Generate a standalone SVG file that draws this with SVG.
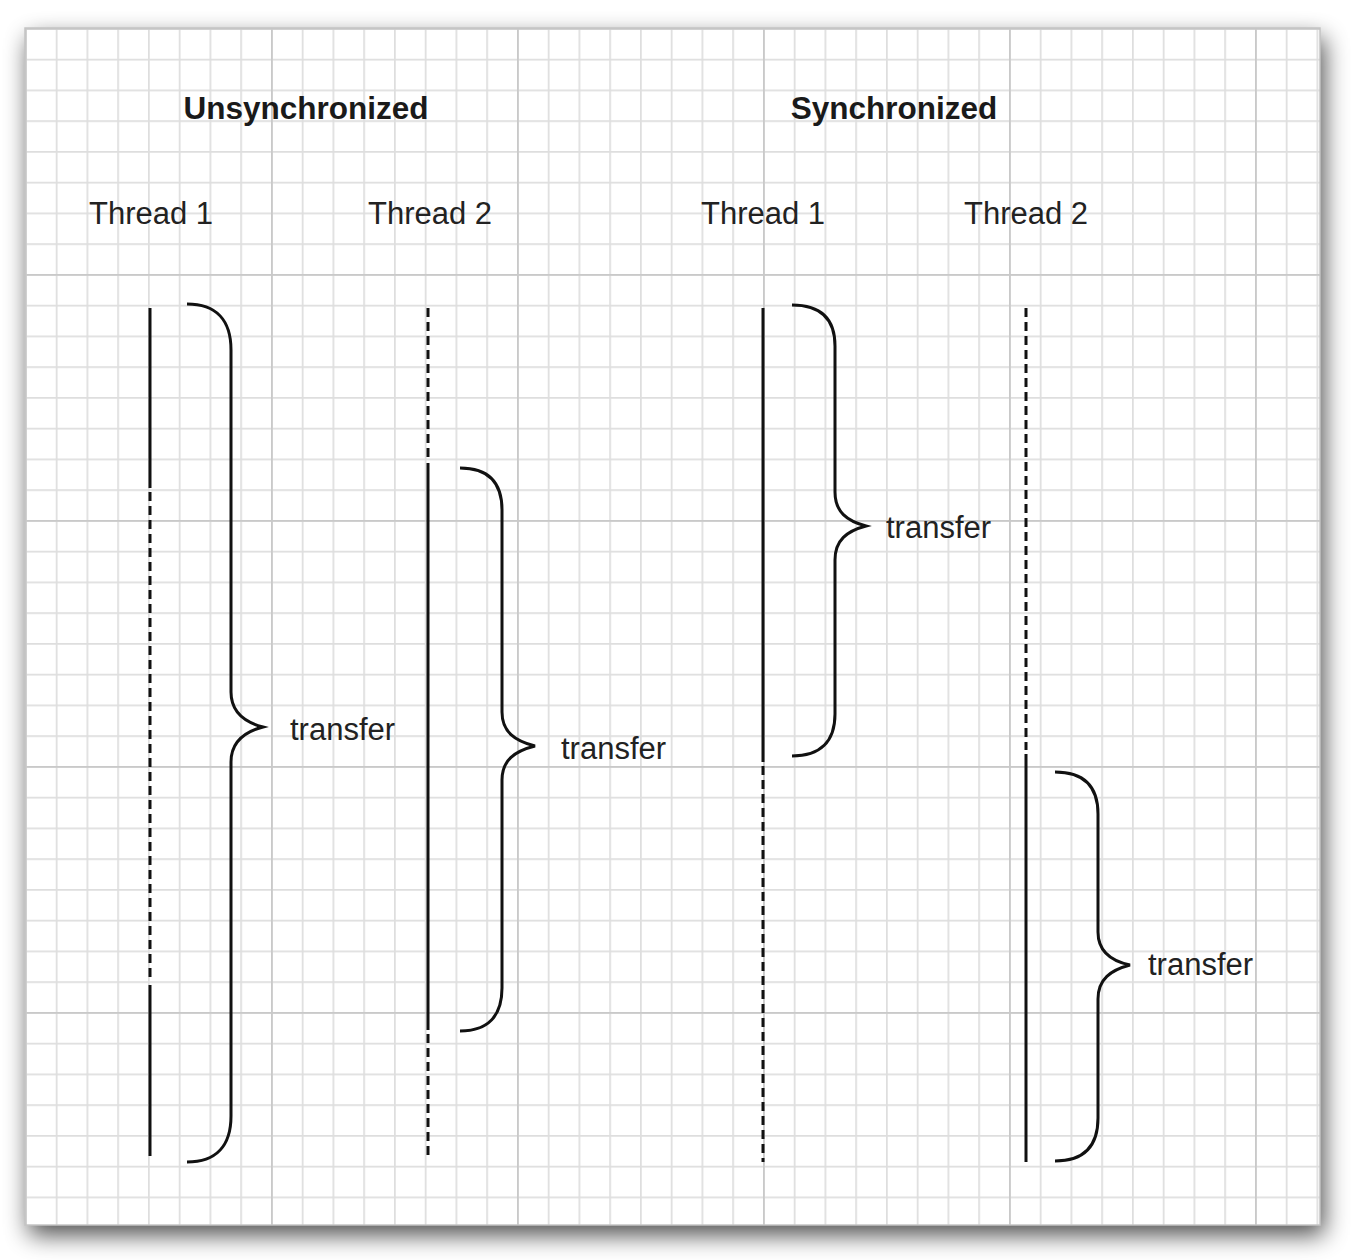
<svg xmlns="http://www.w3.org/2000/svg" width="1352" height="1260" viewBox="0 0 1352 1260">
<style>
.title{font-family:"Liberation Sans",Arial,sans-serif;font-weight:bold;font-size:31.5px;fill:#1a1a1a}
.lbl{font-family:"Liberation Sans",Arial,sans-serif;font-size:31px;fill:#222}
.solid{stroke:#111;stroke-width:3;fill:none}
.dash{stroke:#111;stroke-width:3;fill:none;stroke-dasharray:9 5}
.brace{stroke:#111;stroke-width:3;fill:none;stroke-linejoin:miter}
</style>
<defs>
<filter id="shadow" x="-5%" y="-5%" width="112%" height="112%">
<feGaussianBlur in="SourceAlpha" stdDeviation="12"/>
<feOffset dx="4" dy="10" result="b"/>
<feComponentTransfer><feFuncA type="linear" slope="0.7"/></feComponentTransfer>
<feMerge><feMergeNode/><feMergeNode in="SourceGraphic"/></feMerge>
</filter>
<pattern id="minor" patternUnits="userSpaceOnUse" x="25" y="28" width="30.75" height="30.75">
<path d="M0,0 H30.75 M0,0 V30.75" stroke="#dedede" stroke-width="3.5" fill="none"/>
</pattern>
<pattern id="major" patternUnits="userSpaceOnUse" x="25" y="28" width="246" height="246">
<path d="M0,0 H246 M0,0 V246" stroke="#c9c9c9" stroke-width="3.5" fill="none"/>
</pattern>
</defs>
<rect width="1352" height="1260" fill="#ffffff"/>
<g id="panel">
<rect x="25" y="28" width="1295" height="1197" fill="#ffffff" filter="url(#shadow)"/>
<rect x="25" y="28" width="1295" height="1197" fill="url(#minor)"/>
<rect x="25" y="28" width="1295" height="1197" fill="url(#major)"/>
<rect x="25" y="28" width="1295" height="1197" fill="none" stroke="#c4c4c4" stroke-width="1.5"/>
</g>
<g id="title-unsync"><text class="title" x="306" y="119" text-anchor="middle">Unsynchronized</text></g>
<g id="title-sync"><text class="title" x="894" y="119" text-anchor="middle">Synchronized</text></g>
<g id="label-u-t1"><text class="lbl" x="151" y="224" text-anchor="middle">Thread 1</text></g>
<g id="label-u-t2"><text class="lbl" x="430" y="224" text-anchor="middle">Thread 2</text></g>
<g id="label-s-t1"><text class="lbl" x="763" y="224" text-anchor="middle">Thread 1</text></g>
<g id="label-s-t2"><text class="lbl" x="1026" y="224" text-anchor="middle">Thread 2</text></g>
<g id="thread-u1">
<line class="solid" x1="150" y1="308" x2="150" y2="488"/>
<line class="dash" x1="150" y1="492" x2="150" y2="982"/>
<line class="solid" x1="150" y1="985" x2="150" y2="1156"/>
</g>
<g id="thread-u2">
<line class="dash" x1="428" y1="308" x2="428" y2="461"/>
<line class="solid" x1="428" y1="463" x2="428" y2="1030"/>
<line class="dash" x1="428" y1="1034" x2="428" y2="1155"/>
</g>
<g id="thread-s1">
<line class="solid" x1="763" y1="308" x2="763" y2="762"/>
<line class="dash" x1="763" y1="766" x2="763" y2="1162"/>
</g>
<g id="thread-s2">
<line class="dash" x1="1026" y1="308" x2="1026" y2="750"/>
<line class="solid" x1="1026" y1="754" x2="1026" y2="1162"/>
</g>
<g id="connectors">
<path class="brace" d="M187,304 C216,304 231,320 231,350 L231,692 C231,712 244,722 263,727 C244,732 231,742 231,762 L231,1116 C231,1146 216,1162 187,1162"/>
<path class="brace" d="M460,468 C488,468 502,482 502,510 L502,712 C502,732 515,741 535,746 C515,751 502,760 502,780 L502,988 C502,1016 488,1031 460,1031"/>
<path class="brace" d="M792,305 C820,305 835,318 835,346 L835,492 C835,512 847,521 866,526 C847,531 835,540 835,560 L835,714 C835,742 820,756 792,756"/>
<path class="brace" d="M1055,772 C1084,772 1098,786 1098,814 L1098,932 C1098,952 1111,961 1130,965 C1111,970 1098,979 1098,999 L1098,1118 C1098,1146 1084,1161 1055,1161"/>
</g>
<g id="transfer-u1"><text class="lbl" x="290" y="740">transfer</text></g>
<g id="transfer-u2"><text class="lbl" x="561" y="759">transfer</text></g>
<g id="transfer-s1"><text class="lbl" x="886" y="538">transfer</text></g>
<g id="transfer-s2"><text class="lbl" x="1148" y="975">transfer</text></g>
</svg>
